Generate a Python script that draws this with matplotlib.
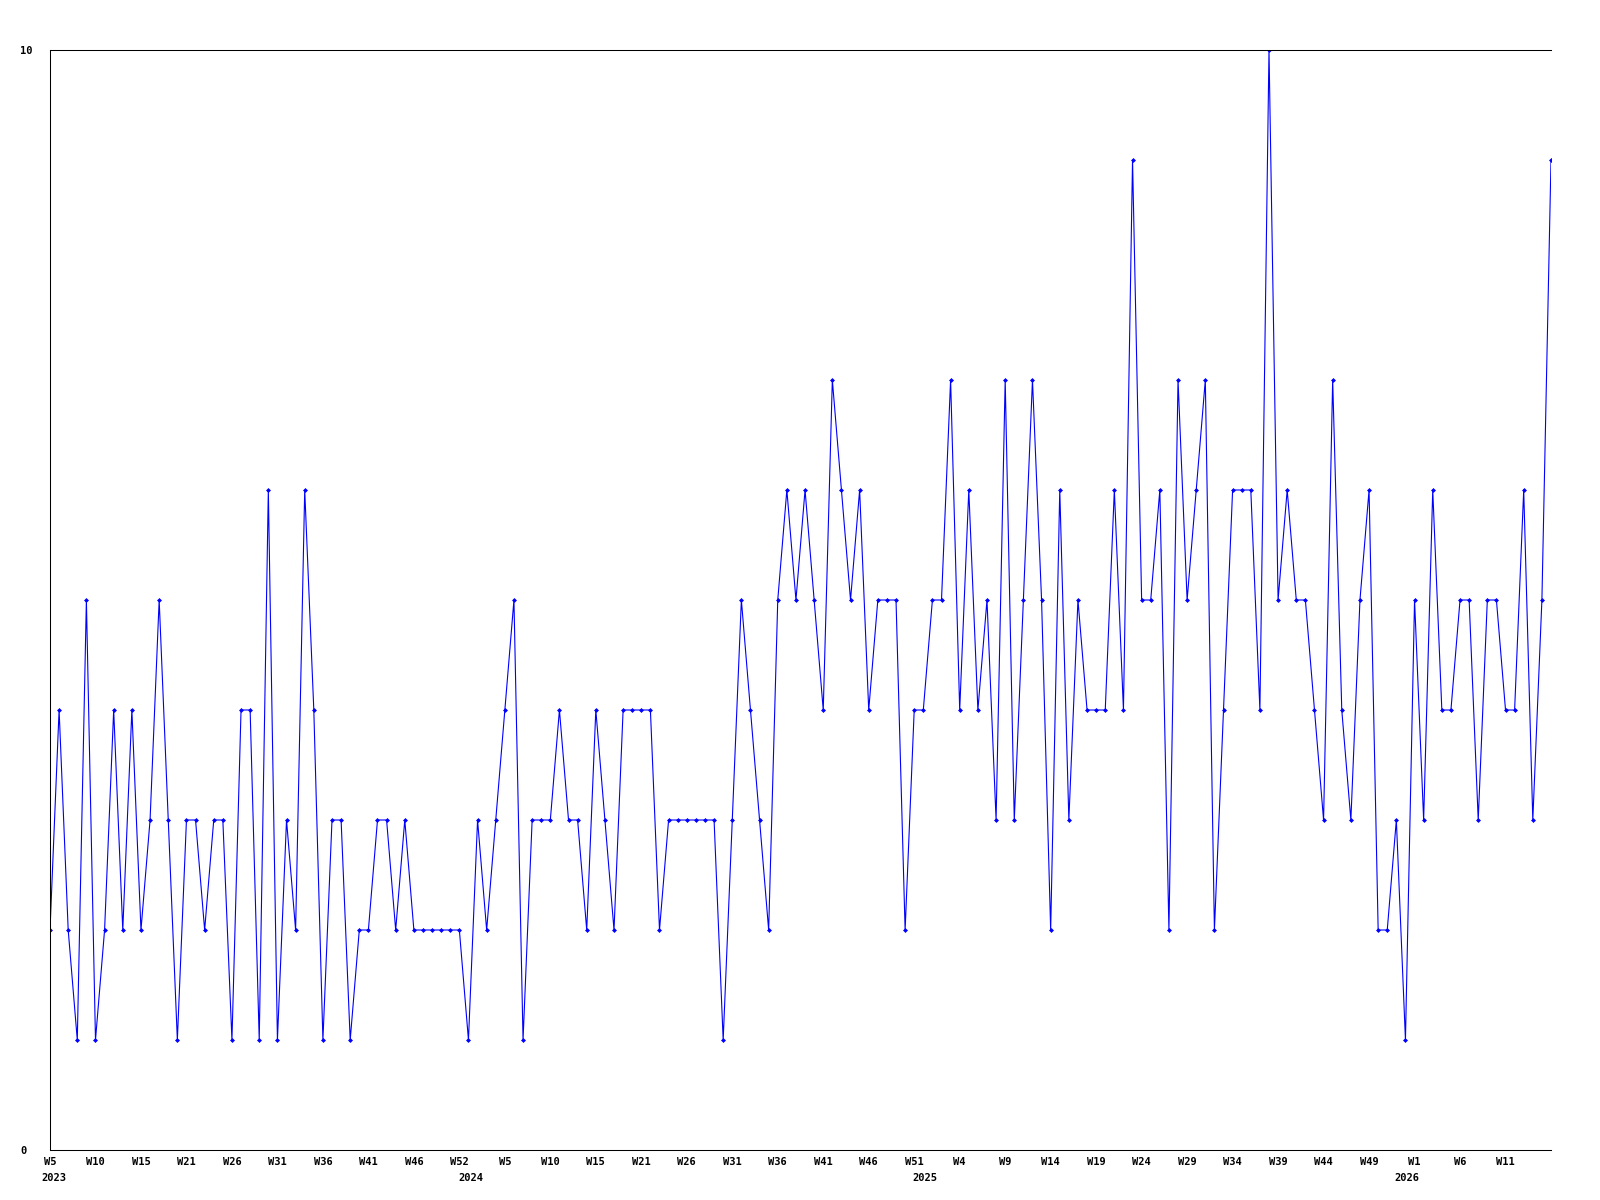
import matplotlib
matplotlib.use("Agg")
import matplotlib.pyplot as plt
from matplotlib.transforms import blended_transform_factory

values = [2, 4, 2, 1, 5, 1, 2, 4, 2, 4, 2, 3, 5, 3, 1, 3, 3, 2, 3, 3, 1, 4,
          4, 1, 6, 1, 3, 2, 6, 4, 1, 3, 3, 1, 2, 2, 3, 3, 2, 3, 2, 2,
          2, 2, 2, 2, 1, 3, 2, 3, 4, 5, 1, 3, 3, 3, 4, 3, 3, 2, 4, 3, 2,
          4, 4, 4, 4, 2, 3, 3, 3, 3, 3, 3, 1, 3, 5, 4, 3, 2, 5, 6, 5, 6,
          5, 4, 7, 6, 5, 6, 4, 5, 5, 5, 2, 4, 4, 5, 5, 7, 4, 6, 4, 5, 3,
          7, 3, 5, 7, 5, 2, 6, 3, 5, 4, 4, 4, 6, 4, 9, 5, 5, 6, 2, 7, 5,
          6, 7, 2, 4, 6, 6, 6, 4, 10, 5, 6, 5, 5, 4, 3, 7, 4, 3, 5, 6, 2,
          2, 3, 1, 5, 3, 6, 4, 4, 5, 5, 3, 5, 5, 4, 4, 6, 3, 5, 9]

week_labels = ["W5", "W10", "W15", "W21", "W26", "W31", "W36", "W41", "W46", "W52",
               "W5", "W10", "W15", "W21", "W26", "W31", "W36", "W41", "W46", "W51",
               "W4", "W9", "W14", "W19", "W24", "W29", "W34", "W39", "W44", "W49",
               "W1", "W6", "W11"]
tick_step = 5
year_labels = ["2023", "2024", "2025", "2026"]
year_positions = [0.4, 46.3, 96.2, 149.2]

W, H = 1600, 1200
fig = plt.figure(figsize=(16, 12), dpi=100)
ax = fig.add_axes([50 / W, 1 - 1150 / H, (1551 - 50) / W, 1100 / H])

x = list(range(len(values)))
ax.plot(x, values, color="#0000FF", linewidth=0.8, marker="D", markersize=2.0,
        markerfacecolor="#0000FF", markeredgecolor="#0000FF", markeredgewidth=0.5)

ax.set_xlim(0, len(values) - 1)
ax.set_ylim(0, 10)

font = dict(family="DejaVu Sans Mono", weight="bold", size=7.5)

ax.set_yticks([0, 10])
ax.set_yticklabels(["0", "10"], fontdict=font)
ax.tick_params(axis="y", length=0, pad=21.6)
for lab in ax.get_yticklabels():
    lab.set_horizontalalignment("left")

ax.set_xticks([i * tick_step for i in range(len(week_labels))])
ax.set_xticklabels(week_labels, fontdict=font)
ax.tick_params(axis="x", length=0, pad=5)

trans = blended_transform_factory(ax.transData, ax.transAxes)
for lab, pos in zip(year_labels, year_positions):
    ax.text(pos, -23 / 1100, lab, transform=trans, ha="center", va="top",
            fontdict=font)

for side in ["left", "top", "bottom"]:
    ax.spines[side].set_color("black")
    ax.spines[side].set_linewidth(0.75)
ax.spines["right"].set_visible(False)

fig.savefig("out.png", dpi=100, facecolor="white")
